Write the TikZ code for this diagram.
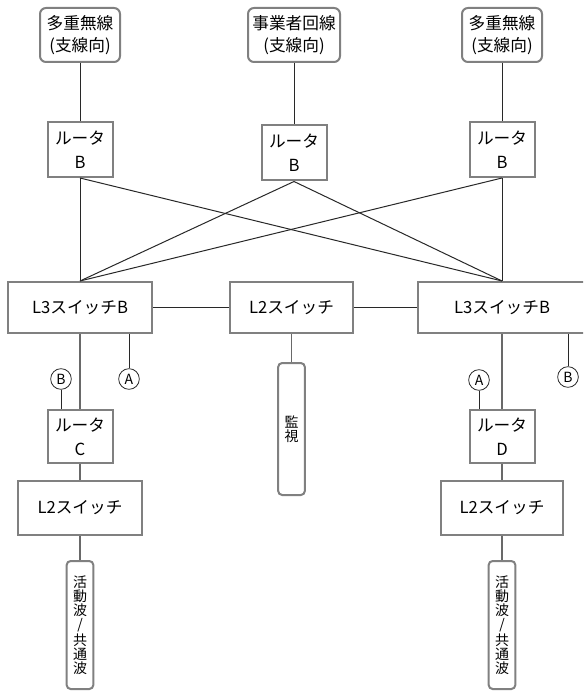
\documentclass[tikz,border=0pt]{standalone}
\usepackage{fontspec}
\setmainfont{Noto Sans CJK JP}
\usetikzlibrary{positioning}
\definecolor{edgegray}{RGB}{128,128,128}
\definecolor{linkdark}{RGB}{40,40,40}
\definecolor{linkgray}{RGB}{105,105,105}

\begin{document}
\begin{tikzpicture}[
    x=0.75pt, y=-0.75pt,
    every node/.style = {font=\fontsize{12.5}{18}\selectfont},
    box/.style = {draw=edgegray, line width=1.5pt, fill=white, align=center, inner sep=0pt},
    endbox/.style = {box, rounded corners=4.5pt, minimum width=60pt, minimum height=40.5pt,
                     font=\fontsize{12.5}{16.5}\selectfont},
    router/.style = {box, minimum width=48.75pt, minimum height=41.25pt},
    switch/.style = {box, minimum height=38.25pt},
    vbox/.style = {box, rounded corners=3pt, minimum width=20pt, font=\fontsize{10.5}{10.5}\selectfont},
    tag/.style = {circle, draw=linkdark, line width=0.6pt, minimum size=15.5pt, inner sep=0pt,
                  font=\fontsize{10.5}{10.5}\selectfont},
    link/.style = {draw=linkdark, line width=0.75pt},
    drop/.style = {draw=linkgray, line width=1.1pt}
]
  \clip (0,0) rectangle (583,691);
  \fill[white] (0,0) rectangle (583,691);

  \node[endbox] (wl1) at (80,35) {多重無線\\(支線向)};
  \node[endbox, minimum width=69pt] (carrier) at (294,35) {事業者回線\\(支線向)};
  \node[endbox] (wl2) at (502,35) {多重無線\\(支線向)};
  \node[router] (rb1) at (80,149.5) {ルータ\\B};
  \node[router] (rb2) at (294,153) {ルータ\\B};
  \node[router] (rb3) at (502,149.5) {ルータ\\B};

  \node[switch, minimum width=108pt] (l3a) at (80,307.5) {L3スイッチB};
  \node[switch, minimum width=92.25pt] (l2m) at (291.5,307.5) {L2スイッチ};
  \node[switch, minimum width=126pt] (l3b) at (502,307.5) {L3スイッチB};
  \node[vbox, minimum height=99pt] (mon) at (291.5,429) {監\\視};

  \node[tag] (tb1) at (61,379) {B};
  \node[tag] (ta1) at (129,379) {A};
  \node[tag] (ta2) at (479,380) {A};
  \node[tag] (tb2) at (568,377) {B};

  \node[router, minimum height=39.75pt] (rc) at (80,436.5) {ルータ\\C};
  \node[router, minimum height=39.75pt] (rd) at (502,436.5) {ルータ\\D};
  \node[switch, minimum width=93pt, minimum height=40.5pt] (l2a) at (80,508) {L2スイッチ};
  \node[switch, minimum width=91.5pt, minimum height=40.5pt] (l2b) at (502,508) {L2スイッチ};
  \node[vbox, minimum height=96pt] (wave1) at (80,625) {活\\動\\波\\/\\共\\通\\波};
  \node[vbox, minimum height=96pt] (wave2) at (502,625) {活\\動\\波\\/\\共\\通\\波};

  \draw[link] (wl1) -- (rb1);
  \draw[link] (carrier) -- (rb2);
  \draw[link] (wl2) -- (rb3);
  \foreach \r in {rb1,rb2,rb3} {
    \draw[link] (\r.south) -- (l3a.north);
    \draw[link] (\r.south) -- (l3b.north);
  }
  \draw[link] (l3a) -- (l2m);
  \draw[link] (l2m) -- (l3b);
  \draw[drop] (l2m) -- (mon);
  \draw[drop] (l3a) -- (rc);
  \draw[drop] (l3b) -- (rd);
  \draw[drop] (rc) -- (l2a);
  \draw[drop] (rd) -- (l2b);
  \draw[drop] (l2a) -- (wave1);
  \draw[drop] (l2b) -- (wave2);

  \draw[link] (ta1) -- (ta1 |- l3a.south);
  \draw[link] (tb1) -- (tb1 |- rc.north);
  \draw[link] (ta2) -- (ta2 |- rd.north);
  \draw[link] (tb2) -- (tb2 |- l3b.south);
\end{tikzpicture}
\end{document}
